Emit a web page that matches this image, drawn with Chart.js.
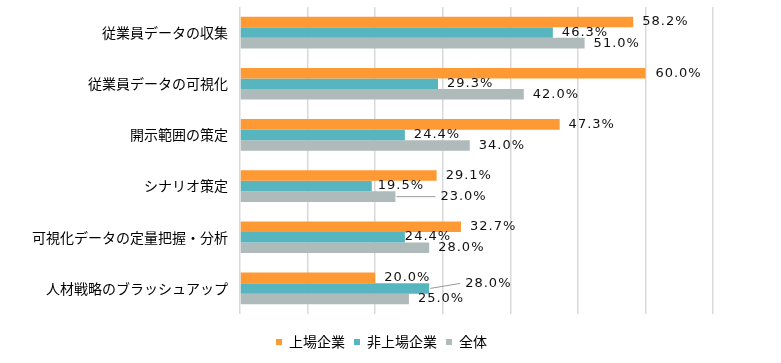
<!DOCTYPE html>
<html lang="ja">
  <head>
    <meta charset="UTF-8" />
    <title>人材データ活用の取り組み</title>
    <script src="https://cdn.jsdelivr.net/npm/chart.js"></script>
    <style>
      html, body { margin: 0; padding: 0; background: #fff; }
      #wrap { width: 781px; height: 363px; }
    </style>
  </head>
  <body>
    <div id="wrap"><canvas id="barChart" width="781" height="363"></canvas></div>
    <script>
      // データ
      const categories = [
        "従業員データの収集",
        "従業員データの可視化",
        "開示範囲の策定",
        "シナリオ策定",
        "可視化データの定量把握・分析",
        "人材戦略のブラッシュアップ",
      ];
      const seriesNames = ["上場企業", "非上場企業", "全体"];
      const listed = [58.2, 60.0, 47.3, 29.1, 32.7, 20.0];
      const unlisted = [46.3, 29.3, 24.4, 19.5, 24.4, 28.0];
      const overall = [51.0, 42.0, 34.0, 23.0, 28.0, 25.0];
      const xTicks = [0, 10, 20, 30, 40, 50, 60, 70];

      // ラベル位置の微調整 (dx, dy)
      const labelOffsets = [
        [[0, 0], [1, 0], [0, 0], [0, 0], [0, 0], [0, 0]],
        [[0, 0], [0, 0], [0, 0], [-3, 0], [-9, -1], [27, -5]],
        [[0, 0], [0, 0], [0, 0], [36, 0], [0, 0], [0, 0]],
      ];

      const colors = ["#FF9933", "#57B5BF", "#AFBABA"];

      const valueLabels = {
        id: "valueLabels",
        afterDatasetsDraw(chart) {
          const c = chart.ctx;
          c.save();
          c.font = '13px "DejaVu Sans"';
          c.letterSpacing = "1px";
          c.textBaseline = "middle";
          c.textAlign = "left";
          chart.data.datasets.forEach((ds, di) => {
            chart.getDatasetMeta(di).data.forEach((bar, i) => {
              const off = labelOffsets[di][i];
              const x = bar.x + 9 + off[0];
              const y = bar.y + off[1];
              if (off[0] > 15) {
                c.strokeStyle = "#999";
                c.lineWidth = 1;
                c.beginPath();
                c.moveTo(bar.x + 1, bar.y);
                c.lineTo(x - 5, y);
                c.stroke();
              }
              c.fillStyle = "#111";
              c.fillText(ds.data[i].toFixed(1) + "%", x, y);
            });
          });
          c.restore();
        },
      };

      // 凡例を少し右へ
      const legendShift = {
        id: "legendShift",
        afterLayout(chart) {
          const lg = chart.legend;
          lg.left += 25;
          lg.right += 25;
        },
      };

      const ctx = document.getElementById("barChart").getContext("2d");
      new Chart(ctx, {
        type: "bar",
        data: {
          labels: categories,
          datasets: [listed, unlisted, overall].map((d, k) => ({
            label: seriesNames[k],
            data: d,
            backgroundColor: colors[k],
            categoryPercentage: 0.62,
            barPercentage: 1.0,
          })),
        },
        options: {
          indexAxis: "y",
          responsive: false,
          animation: false,
          layout: { padding: { top: 7, right: 68, bottom: 4, left: 0 } },
          scales: {
            x: {
              min: 0,
              max: 70,
              afterBuildTicks(scale) {
                scale.ticks = xTicks.map((v) => ({ value: v }));
              },
              afterFit(scale) {
                scale.height = 12;
              },
              ticks: { display: false },
              grid: { color: "#d9d9d9", lineWidth: 1.5, drawTicks: false },
              border: { display: false },
            },
            y: {
              afterFit(scale) {
                scale.width = 240;
                scale.paddingTop = 0;
                scale.paddingBottom = 0;
              },
              ticks: {
                padding: 12,
                color: "#000",
                font: { family: '"Noto Sans CJK JP"', size: 14 },
              },
              grid: { display: false, drawTicks: false },
              border: { display: false },
            },
          },
          plugins: {
            legend: {
              position: "bottom",
              labels: {
                boxWidth: 6,
                boxHeight: 6,
                padding: 9,
                color: "#000",
                font: { family: '"Noto Sans CJK JP"', size: 14 },
              },
            },
            tooltip: { enabled: false },
          },
        },
        plugins: [valueLabels, legendShift],
      });
    </script>
  </body>
</html>
